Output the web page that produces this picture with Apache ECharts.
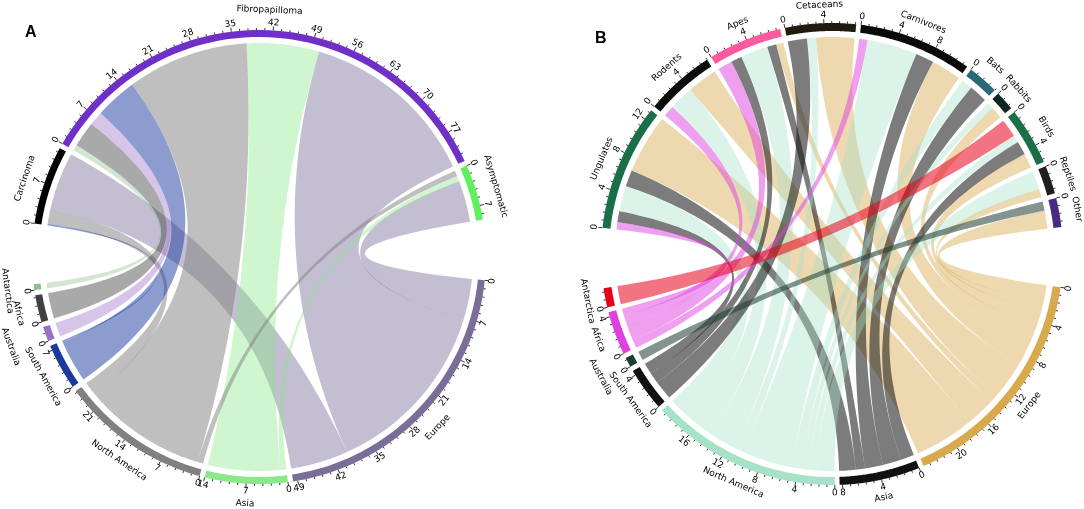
<!DOCTYPE html>
<html>
<head>
<meta charset="utf-8">
<script src="https://cdn.jsdelivr.net/npm/echarts@6.0.0/dist/echarts.min.js"></script>
<style>
html,body{margin:0;padding:0;background:#ffffff;}
#chart{width:1084px;height:509px;}
</style>
</head>
<body>
<div id="chart"></div>
<script>
// ---------------- DATA : panel A (disease status x region) ----------------
const aRowNames = ['Carcinoma', 'Fibropapilloma', 'Asymptomatic'];
const aColNames = ['Europe', 'Asia', 'North America', 'South America', 'Australia', 'Africa', 'Antarctica'];
// each row: values in the order of aColNames
const aCarcinoma      = [10.3, 0.0, 2.7, 0.3, 0.0, 0.0, 0.0];
const aFibropapilloma = [32.1, 13.0, 21.8, 7.5, 2.5, 4.6, 1.0];
const aAsymptomatic   = [7.4, 1.0, 1.0, 0.0, 0.0, 0.0, 0.0];
const aTickStep = 7;

// ---------------- DATA : panel B (animal group x region) ----------------
const bRowNames = ['Ungulates', 'Rodents', 'Apes', 'Cetaceans', 'Carnivores', 'Bats', 'Rabbits', 'Birds', 'Reptiles', 'Other'];
const bColNames = ['Europe', 'Asia', 'North America', 'South America', 'Australia', 'Africa', 'Antarctica'];
const bUngulates  = [6.5, 1.8, 2.8, 1.2, 0.0, 0.8, 0.0];
const bRodents    = [3.3, 0.0, 2.7, 0.0, 0.0, 1.2, 0.0];
const bApes       = [0.8, 1.0, 3.0, 1.2, 0.0, 1.6, 0.0];
const bCetaceans  = [4.2, 0.0, 1.0, 2.1, 0.0, 0.0, 0.0];
const bCarnivores = [3.3, 2.0, 5.5, 0.0, 0.0, 0.9, 0.0];
const bBats       = [0.0, 2.0, 1.2, 0.0, 0.0, 0.0, 0.0];
const bRabbits    = [1.3, 0.0, 0.7, 0.0, 0.0, 0.0, 0.0];
const bBirds      = [1.6, 1.5, 0.8, 0.0, 0.0, 0.0, 2.0];
const bReptiles   = [0.9, 0.0, 2.0, 0.0, 0.0, 0.0, 0.0];
const bOther      = [2.0, 0.0, 0.0, 0.0, 1.0, 0.0, 0.0];
const bTickStep = 4;

// ---------------- STYLE ----------------
const aRowColors = ['#000000', '#7030c8', '#5ef05e'];
const aColColors = ['#7a6e98', '#8ae88a', '#808080', '#1a3aa0', '#9a6fc8', '#404040', '#8fc08f'];
const aLinkAlpha = [0.45, 0.4, 0.5, 0.5, 0.4, 0.45, 0.4];
const bRowColors = ['#1a6e48', '#0d0d0d', '#ff5aa0', '#1f1b0f', '#0a0a0a', '#286878', '#0e2820', '#1a6e48', '#1e1e1e', '#4a2a80'];
const bColColors = ['#d9a94e', '#111111', '#a6e2c8', '#111111', '#1d3b30', '#e040e0', '#e8001a'];
const bLinkAlpha = [0.45, 0.55, 0.4, 0.55, 0.55, 0.5, 0.55];

const GEOM_A = {cx: 259, cy: 257, rOut: 227, band: 7, linkGap: 6, start: 171.5, gap: 1.3, bigGap: 15.4,
  rMax: 280, tickLab: 7.5, nameR: 20, nameExtra: {'Australia': 17, 'Antarctica': 7}};
const GEOM_B = {cx: 832, cy: 254, rOut: 231, band: 8, linkGap: 6, start: 173.5, gap: 1.2, bigGap: 15.0,
  rMax: 280, tickLab: 8, nameR: 18, nameExtra: {'Australia': 13}};
const FONT = '9px "DejaVu Sans"';

function hexA(hex, a) {
  const n = parseInt(hex.slice(1), 16);
  return 'rgba(' + ((n >> 16) & 255) + ',' + ((n >> 8) & 255) + ',' + (n & 255) + ',' + a + ')';
}
function sum(arr) { return arr.reduce((s, v) => s + v, 0); }

function layoutChord(matrix, nR, nC, gapDeg, bigGapDeg) {
  const n = nR + nC;
  const totals = [];
  for (let i = 0; i < nR; i++) totals.push(sum(matrix[i]));
  for (let j = 0; j < nC; j++) totals.push(sum(matrix.map(r => r[j])));
  const units = sum(totals);
  const k = (360 - (n - 2) * gapDeg - 2 * bigGapDeg) / units;
  const starts = [];
  let pos = 0;
  for (let i = 0; i < n; i++) {
    starts.push(pos);
    pos += totals[i];
    pos += ((i === nR - 1 || i === n - 1) ? bigGapDeg : gapDeg) / k;
  }
  const rowSlot = [], colSlot = [];
  for (let i = 0; i < nR; i++) {
    rowSlot.push([]);
    let cur = starts[i];
    for (let j = nC - 1; j >= 0; j--) {
      const v = matrix[i][j];
      rowSlot[i][j] = [cur, cur + v];
      cur += v;
    }
  }
  for (let j = 0; j < nC; j++) {
    colSlot.push([]);
    let cur = starts[nR + j];
    for (let i = nR - 1; i >= 0; i--) {
      const v = matrix[i][j];
      colSlot[j][i] = [cur, cur + v];
      cur += v;
    }
  }
  return {totals, starts, axisMax: pos, rowSlot, colSlot};
}

function arcPts(P, r, u0, u1, n) {
  const pts = [];
  for (let s = 0; s <= n; s++) pts.push(P(r, u0 + (u1 - u0) * s / n));
  return pts;
}
function bezPts(p0, c, p2, n) {
  const pts = [];
  for (let s = 1; s < n; s++) {
    const t = s / n, m = 1 - t;
    pts.push([m * m * p0[0] + 2 * m * t * c[0] + t * t * p2[0], m * m * p0[1] + 2 * m * t * c[1] + t * t * p2[1]]);
  }
  return pts;
}
function tangentText(P, c, r, u, text, font) {
  const p = P(r, u);
  const th = Math.atan2(c[1] - p[1], p[0] - c[0]);
  let rot = th - Math.PI / 2;
  if (Math.sin(th) < -1e-6) rot += Math.PI;
  return {type: 'text', x: p[0], y: p[1], rotation: rot,
    style: {text: String(text), font: font, fill: '#000', align: 'center', verticalAlign: 'middle'}};
}

function renderEl(d, api, g) {
  const P = (r, u) => api.coord([r, u]);
  const c = P(0, 0);
  const rIn = g.rOut - g.band, rL = rIn - g.linkGap;
  if (d.kind === 'sector') {
    const pts = arcPts(P, g.rOut, d.u0, d.u1, 60).concat(arcPts(P, rIn, d.u1, d.u0, 60));
    return {type: 'polygon', shape: {points: pts}, style: {fill: d.color}};
  }
  if (d.kind === 'link') {
    const a = arcPts(P, rL, d.s[0], d.s[1], 30);
    const b = arcPts(P, rL, d.t[0], d.t[1], 30);
    const pts = a.concat(bezPts(a[a.length - 1], c, b[0], 60), b, bezPts(b[b.length - 1], c, a[0], 60));
    return {type: 'polygon', shape: {points: pts}, style: {fill: d.color}};
  }
  if (d.kind === 'ticks') {
    const children = [];
    const minor = d.step / 5;
    for (let m = 0; m * minor <= d.total + 1e-6; m++) {
      const v = m * minor;
      const major = m % 5 === 0;
      const p1 = P(g.rOut, d.u0 + v), p2 = P(g.rOut + (major ? 4 : 2), d.u0 + v);
      children.push({type: 'line', shape: {x1: p1[0], y1: p1[1], x2: p2[0], y2: p2[1]},
        style: {stroke: '#000', lineWidth: 0.8}});
      if (major) children.push(tangentText(P, c, g.rOut + g.tickLab, d.u0 + v, Math.round(v), FONT));
    }
    return {type: 'group', children: children};
  }
  if (d.kind === 'name') {
    const extra = g.nameExtra[d.text] || 0;
    return tangentText(P, c, g.rOut + g.nameR + extra, d.u, d.text, FONT);
  }
  return null;
}

function buildSeries(rows, cols, matrix, rowColors, colColors, linkAlpha, tickStep, g, polarIndex, L) {
  const names = rows.concat(cols);
  const colors = rowColors.concat(colColors);
  const items = [];
  for (let i = 0; i < rows.length; i++) {
    for (let j = 0; j < cols.length; j++) {
      if (matrix[i][j] > 0) {
        items.push({kind: 'link', s: L.rowSlot[i][j], t: L.colSlot[j][i],
          color: hexA(colColors[j], linkAlpha[j]), at: L.rowSlot[i][j][0]});
      }
    }
  }
  for (let k = 0; k < names.length; k++) {
    items.push({kind: 'sector', u0: L.starts[k], u1: L.starts[k] + L.totals[k], color: colors[k], at: L.starts[k]});
    items.push({kind: 'ticks', u0: L.starts[k], total: L.totals[k], step: tickStep, at: L.starts[k]});
    items.push({kind: 'name', u: L.starts[k] + L.totals[k] / 2, text: names[k], at: L.starts[k] + L.totals[k] / 2});
  }
  return {
    type: 'custom', coordinateSystem: 'polar', polarIndex: polarIndex,
    clip: false, silent: true, animation: false,
    data: items.map(d => [g.rOut, d.at]),
    renderItem: (params, api) => renderEl(items[params.dataIndex], api, g)
  };
}

const aMatrix = [aCarcinoma, aFibropapilloma, aAsymptomatic];
const bMatrix = [bUngulates, bRodents, bApes, bCetaceans, bCarnivores, bBats, bRabbits, bBirds, bReptiles, bOther];
const LA = layoutChord(aMatrix, aRowNames.length, aColNames.length, GEOM_A.gap, GEOM_A.bigGap);
const LB = layoutChord(bMatrix, bRowNames.length, bColNames.length, GEOM_B.gap, GEOM_B.bigGap);

function hiddenAxis(extra) {
  return Object.assign({type: 'value', axisLine: {show: false}, axisTick: {show: false},
    axisLabel: {show: false}, splitLine: {show: false}, splitArea: {show: false}}, extra);
}

const chart = echarts.init(document.getElementById('chart'), null, {renderer: 'canvas'});
chart.setOption({
  animation: false,
  backgroundColor: '#ffffff',
  polar: [
    {center: [GEOM_A.cx, GEOM_A.cy], radius: GEOM_A.rMax},
    {center: [GEOM_B.cx, GEOM_B.cy], radius: GEOM_B.rMax}
  ],
  angleAxis: [
    hiddenAxis({polarIndex: 0, min: 0, max: LA.axisMax, startAngle: GEOM_A.start, clockwise: true}),
    hiddenAxis({polarIndex: 1, min: 0, max: LB.axisMax, startAngle: GEOM_B.start, clockwise: true})
  ],
  radiusAxis: [
    hiddenAxis({polarIndex: 0, min: 0, max: GEOM_A.rMax}),
    hiddenAxis({polarIndex: 1, min: 0, max: GEOM_B.rMax})
  ],
  graphic: [
    {type: 'text', left: 25, top: 25, style: {text: 'A', font: 'bold 16px "Liberation Sans"', fill: '#000'}},
    {type: 'text', left: 595, top: 31, style: {text: 'B', font: 'bold 16px "Liberation Sans"', fill: '#000'}}
  ],
  series: [
    buildSeries(aRowNames, aColNames, aMatrix, aRowColors, aColColors, aLinkAlpha, aTickStep, GEOM_A, 0, LA),
    buildSeries(bRowNames, bColNames, bMatrix, bRowColors, bColColors, bLinkAlpha, bTickStep, GEOM_B, 1, LB)
  ]
});
</script>
</body>
</html>
